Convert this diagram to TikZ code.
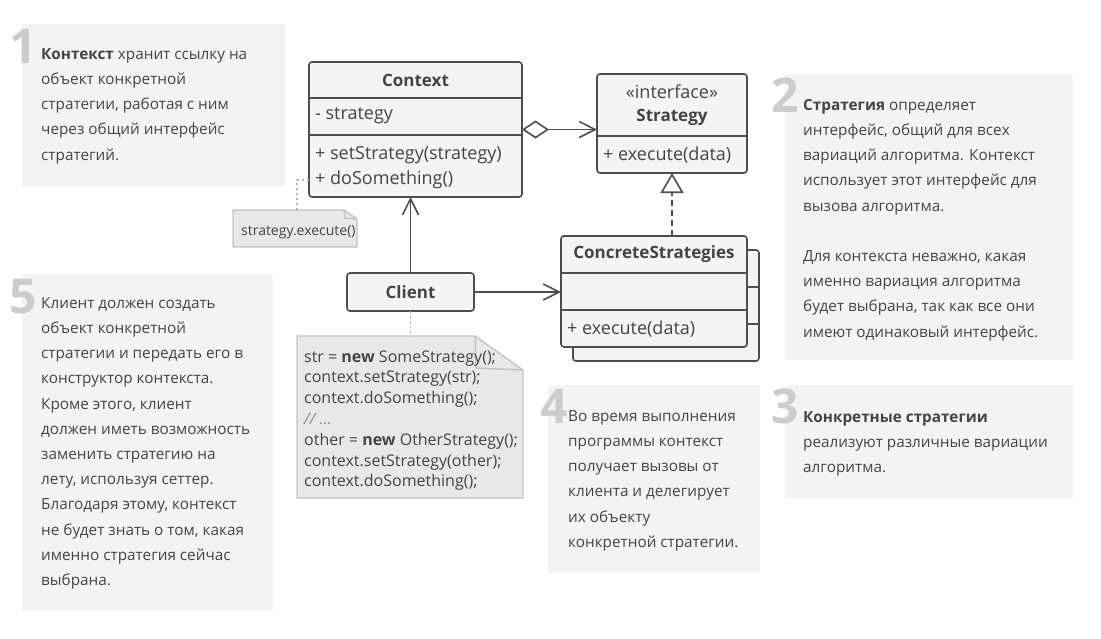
\documentclass[tikz,border=0pt]{standalone}
\usepackage{fontspec}
\setmainfont{Open Sans}
\definecolor{boxbg}{HTML}{F3F3F3}
\definecolor{numgray}{HTML}{CCCCCC}
\definecolor{ink}{HTML}{444444}
\definecolor{inkline}{HTML}{4D4D4D}
\definecolor{clsbg}{HTML}{F4F4F4}
\definecolor{notebg}{HTML}{E8E8E8}
\definecolor{noteline}{HTML}{C2C2C2}
\definecolor{dotgray}{HTML}{B4B4B4}
\usetikzlibrary{arrows.meta,positioning,calc}

\begin{document}
\begin{tikzpicture}[x=1pt, y=-1pt, text=ink]
    \tikzset{infobox/.style={rectangle, fill=boxbg, inner sep=0, outer sep=0, anchor=north west}}
    \tikzset{numlabel/.style={font=\fontsize{48}{48}\selectfont\bfseries, text=numgray,
      inner sep=0, anchor=base east}}
    % top of a text node = first baseline - strut height (0.7 x 25.2pt)
    \tikzset{infotext/.style={font=\fontsize{15.3}{25.2}\selectfont, align=left,
      inner sep=0, anchor=north west}}
    \tikzset{classbox/.style={rectangle, rounded corners=3pt, draw=inkline, line width=1.6pt,
      fill=clsbg, inner sep=0, outer sep=0, anchor=north west}}
    \tikzset{classline/.style={draw=inkline, line width=1.6pt}}
    \tikzset{clstext/.style={font=\fontsize{18}{20}\selectfont, inner sep=0}}
    \tikzset{clsbold/.style={font=\fontsize{17}{19}\selectfont\bfseries, inner sep=0}}
    \tikzset{notebox/.style={fill=notebg, draw=noteline, line width=1.4pt, line join=round}}
    \tikzset{codetext/.style={font=\fontsize{16}{20.8}\selectfont, align=left,
      inner sep=0, anchor=north west}}
    \tikzset{assoc/.style={draw=inkline, line width=1.6pt}}
    \tikzset{dotline/.style={draw=dotgray, line width=1.5pt, dash pattern=on 2pt off 3pt}}
    \tikzset{barb/.style={-{Straight Barb[length=16pt, width=16pt]}}}

    \useasboundingbox (0,0) rectangle (1101,638);

    % 1 Context note
    \node[infobox, minimum width=263, minimum height=162] (box1) at (22,24) {};
    \node[numlabel] (num1) at (37,63) {1};
    \node[infotext] (txt1) at (41,41.4)
      {\strut\textbf{Контекст} хранит ссылку на\\объект конкретной\\стратегии, работая с ним\\через общий интерфейс\\стратегий.};

    % 2 Strategy note
    \node[infobox, minimum width=288, minimum height=286] (box2) at (785,74) {};
    \node[numlabel] (num2) at (799,112) {2};
    \node[infotext] (txt2) at (803,92.4)
      {\strut\textbf{Стратегия} определяет\\интерфейс, общий для всех\\вариаций алгоритма. Контекст\\использует этот интерфейс для\\вызова алгоритма.\\[25.2pt]Для контекста неважно, какая\\именно вариация алгоритма\\будет выбрана, так как все они\\имеют одинаковый интерфейс.};

    % 3 ConcreteStrategies note
    \node[infobox, minimum width=288, minimum height=113] (box3) at (785,385) {};
    \node[numlabel] (num3) at (799,423) {3};
    \node[infotext] (txt3) at (803,404.4)
      {\strut\textbf{Конкретные стратегии}\\реализуют различные вариации\\алгоритма.};

    % 4 runtime note
    \node[infobox, minimum width=212, minimum height=188] (box4) at (548,385) {};
    \node[numlabel] (num4) at (568,423) {4};
    \node[infotext] (txt4) at (568,403.4)
      {\strut Во время выполнения\\программы контекст\\получает вызовы от\\клиента и делегирует\\их объекту\\конкретной стратегии.};

    % 5 Client note
    \node[infobox, minimum width=251, minimum height=336] (box5) at (22,274) {};
    \node[numlabel] (num5) at (37,313) {5};
    \node[infotext] (txt5) at (41,290.4)
      {\strut Клиент должен создать\\объект конкретной\\стратегии и передать его в\\конструктор контекста.\\Кроме этого, клиент\\должен иметь возможность\\заменить стратегию на\\лету, используя сеттер.\\Благодаря этому, контекст\\не будет знать о том, какая\\именно стратегия сейчас\\выбрана.};

    % Context class
    \node[classbox, minimum width=213, minimum height=135] (context) at (309,62) {};
    \draw[classline] ([yshift=-36pt]context.north west) -- ([yshift=-36pt]context.north east);
    \draw[classline] ([yshift=-73pt]context.north west) -- ([yshift=-73pt]context.north east);
    \node[clsbold] (ctxname) at (415.5,80) {Context};
    \node[clstext, anchor=west] (ctxattr) at (315,116) {- strategy};
    \node[clstext, anchor=west] (ctxm1) at (315,155) {+ setStrategy(strategy)};
    \node[clstext, anchor=west] (ctxm2) at (315,180) {+ doSomething()};

    % Strategy interface
    \node[classbox, minimum width=150, minimum height=99] (strategy) at (597,74) {};
    \draw[classline] ([yshift=-62pt]strategy.north west) -- ([yshift=-62pt]strategy.north east);
    \node[clstext] (stereo) at (672,92) {«interface»};
    \node[clsbold] (stratname) at (672,117) {Strategy};
    \node[clstext, anchor=west] (stratm) at (603,155) {+ execute(data)};

    % ConcreteStrategies (stacked)
    \node[classbox, minimum width=186, minimum height=111] (csback) at (573,250) {};
    \draw[classline] ([yshift=-37pt]csback.north west) -- ([yshift=-37pt]csback.north east);
    \draw[classline] ([yshift=-74pt]csback.north west) -- ([yshift=-74pt]csback.north east);
    \node[classbox, minimum width=186, minimum height=111] (cs) at (561,236) {};
    \draw[classline] ([yshift=-37pt]cs.north west) -- ([yshift=-37pt]cs.north east);
    \draw[classline] ([yshift=-74pt]cs.north west) -- ([yshift=-74pt]cs.north east);
    \node[clsbold] (csname) at (654,254) {ConcreteStrategies};
    \node[clstext, anchor=west] (csm) at (567,329) {+ execute(data)};

    % Client
    \node[classbox, minimum width=127, minimum height=38] (client) at (347,273) {};
    \node[clsbold] (clientname) at (410.5,292) {Client};

    % code note
    \node[inner sep=0, outer sep=0, minimum width=226, minimum height=162, anchor=north west] (code) at (297,336) {};
    \filldraw[notebox] (code.south west) -- (code.north west) -- ([xshift=-48pt]code.north east)
      -- ([yshift=-34pt]code.north east) -- (code.south east) -- cycle;
    \draw[notebox, fill=none] ([xshift=-48pt]code.north east) -- ([xshift=-47pt,yshift=-32pt]code.north east)
      -- ([yshift=-34pt]code.north east);
    \node[codetext] (codetxt) at (304,347.4)
      {\strut str = \textbf{new} SomeStrategy();\\context.setStrategy(str);\\context.doSomething();\\{\color{black!45}\itshape // \dots}\\other = \textbf{new} OtherStrategy();\\context.setStrategy(other);\\context.doSomething();};

    % strategy.execute() note
    \node[inner sep=0, outer sep=0, minimum width=124, minimum height=37, anchor=north west] (execnote) at (233,210) {};
    \filldraw[notebox] (execnote.south west) -- (execnote.north west) -- ([xshift=-13pt]execnote.north east)
      -- ([yshift=-9pt]execnote.north east) -- (execnote.south east) -- cycle;
    \draw[notebox, fill=none] ([xshift=-13pt]execnote.north east) -- ([xshift=-12pt,yshift=-8pt]execnote.north east)
      -- ([yshift=-9pt]execnote.north east);
    \node[codetext, anchor=west, font=\fontsize{14}{16}\selectfont] (exectxt) at (241,232) {strategy.execute()};

    % connectors
    \draw[assoc, {Diamond[open, length=27pt, width=18pt]}-{Straight Barb[length=16pt, width=16pt]}]
      (context.east) -- (context.east -| strategy.west);
    \draw[assoc, dash pattern=on 6pt off 4pt, -{Triangle[open, length=20pt, width=23pt]}]
      (strategy.south |- cs.north) -- (strategy.south);
    \draw[assoc, barb] (client.north) -- (client.north |- context.south);
    \draw[assoc, barb] (client.east) -- (client.east -| cs.west);
    \draw[dotline] (client.south) -- (client.south |- code.north);
    \draw[dotline] ([xshift=2pt]execnote.north) |- (ctxm2.west -| context.west);
  \end{tikzpicture}
\end{document}
